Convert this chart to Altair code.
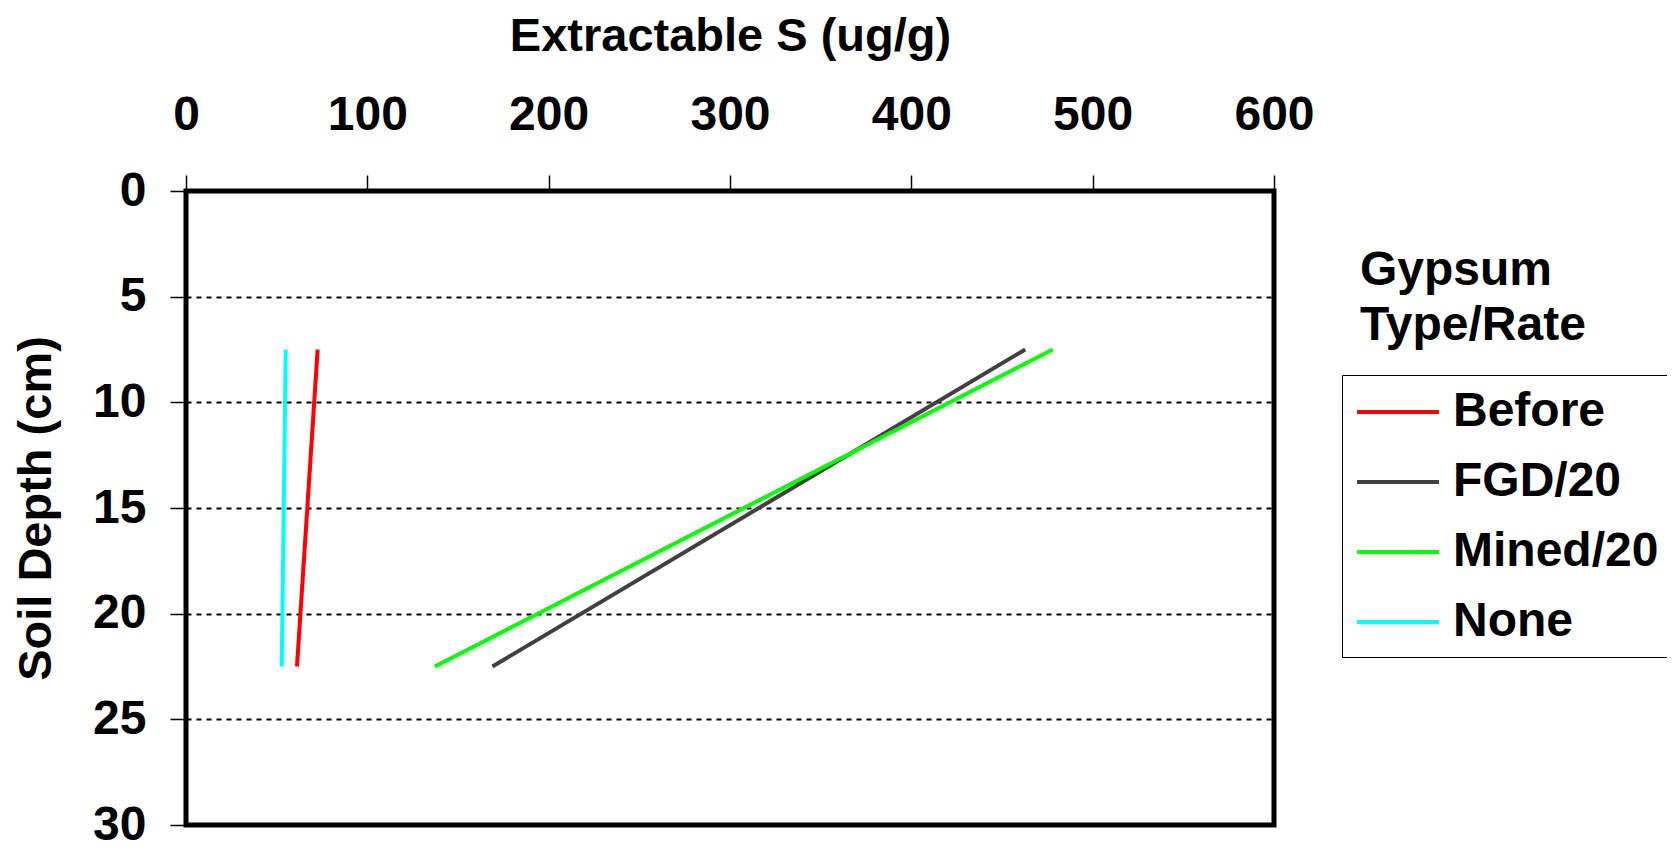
import altair as alt
import pandas as pd

# ---- data ----
depth = [7.5, 22.5]
series = ["Before", "FGD/20", "Mined/20", "None"]
before = [72.6, 61.2]
fgd20 = [462.8, 169.0]
mined20 = [478.0, 137.2]
none_ = [55.0, 52.8]
colors = ["#FF0000", "#404040", "#00FF00", "#00FFFF"]
x_ticks = [0, 100, 200, 300, 400, 500, 600]
y_ticks = [0, 5, 10, 15, 20, 25, 30]
legend_title = ["Gypsum", "Type/Rate"]

rows = []
for name, vals in zip(series, [before, fgd20, mined20, none_]):
    for d, v in zip(depth, vals):
        rows.append({"series": name, "depth": d, "value": v})
df = pd.DataFrame(rows)

FONT = "Liberation Sans"
FS = 48

lines = alt.Chart(df).mark_line(strokeWidth=4).encode(
    x=alt.X(
        "value:Q",
        scale=alt.Scale(domain=[0, 600], nice=False, zero=False),
        axis=alt.Axis(
            orient="top", values=x_ticks, title="Extractable S (ug/g)", grid=False,
            domain=False, tickColor="black", tickWidth=1.5, tickSize=16,
            labelPadding=46, labelBaseline="alphabetic",
            labelFont=FONT, labelFontSize=FS, labelFontWeight="bold", labelColor="black",
            titleFont=FONT, titleFontSize=47, titleFontWeight="bold", titleColor="black",
            titleY=-141, titleBaseline="alphabetic", labelFlush=False, labelOverlap=False,
        ),
    ),
    y=alt.Y(
        "depth:Q",
        scale=alt.Scale(domain=[0, 30], reverse=True, nice=False, zero=False),
        axis=alt.Axis(
            values=y_ticks, title="Soil Depth (cm)", grid=True, gridColor="black",
            gridDash=[5, 5], gridWidth=2, domain=False, tickColor="black",
            tickWidth=1.5, tickSize=16, labelPadding=24,
            labelFont=FONT, labelFontSize=FS, labelFontWeight="bold", labelColor="black",
            titleFont=FONT, titleFontSize=47, titleFontWeight="bold", titleColor="black",
            titleX=-136, titleBaseline="alphabetic", labelFlush=False, labelOverlap=False,
        ),
    ),
    color=alt.Color(
        "series:N",
        scale=alt.Scale(domain=series, range=colors),
        legend=alt.Legend(
            title=None, orient="none", legendX=1156, legendY=184,
            strokeColor="black", padding=11, symbolType="M-1.708,0H1.708",
            symbolSize=2304, symbolOffset=19,
            symbolStrokeWidth=4, labelFont=FONT, labelFontSize=FS,
            labelFontWeight="bold", labelColor="black", labelOffset=29,
            rowPadding=20, labelLimit=400,
        ),
    ),
    order=alt.Order("depth:Q"),
)

title_text = alt.Chart(alt.Data(values=[{}])).mark_text(
    text=legend_title, align="left", baseline="alphabetic", font=FONT,
    fontWeight="bold", fontSize=FS, lineHeight=55, color="black",
).encode(x=alt.value(1174), y=alt.value(94))

chart = alt.layer(lines, title_text).properties(
    width=1088, height=634,
    autosize=alt.AutoSizeParams(type="none"),
    padding={"left": 178, "top": 183, "right": 393, "bottom": 18},
).configure_view(stroke="black", strokeWidth=5)

chart.save("out.html", embed_options={"renderer": "svg", "actions": False})
